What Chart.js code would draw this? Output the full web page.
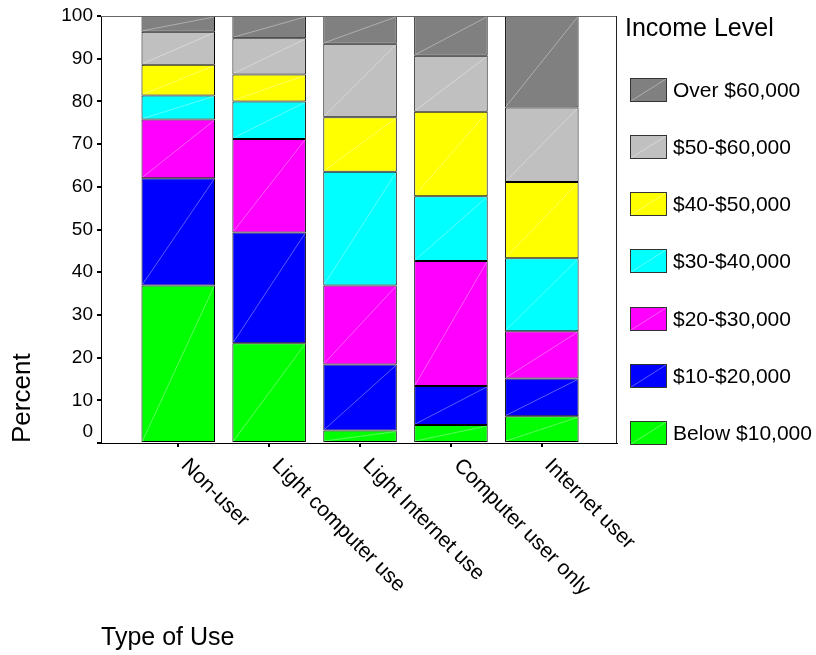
<!DOCTYPE html>
<html>
<head>
<meta charset="utf-8">
<script src="https://cdn.jsdelivr.net/npm/chart.js@4.4.0/dist/chart.umd.min.js"></script>
<style>
html,body{margin:0;padding:0;background:#fff;}
#wrap{width:816px;height:655px;}
</style>
</head>
<body>
<div id="wrap"><canvas id="c" width="816" height="655"></canvas></div>
<script>
// ---- data ----
const categories = ['Non-user', 'Light computer use', 'Light Internet use', 'Computer user only', 'Internet user'];
const seriesNames = ['Below $10,000', '$10-$20,000', '$20-$30,000', '$30-$40,000', '$40-$50,000', '$50-$60,000', 'Over $60,000'];
const below10k = [36.9, 23.35, 2.9, 4.2, 6.25];
const inc10to20k = [25.1, 25.95, 15.5, 9.15, 8.85];
const inc20to30k = [13.75, 21.9, 18.5, 29.25, 11.1];
const inc30to40k = [5.65, 8.8, 26.6, 15.2, 17.05];
const inc40to50k = [7.2, 6.3, 12.8, 19.8, 17.85];
const inc50to60k = [7.7, 8.5, 17.2, 13.1, 17.5];
const over60k = [3.7, 5.2, 6.5, 9.3, 21.4];
const yTicks = [0, 10, 20, 30, 40, 50, 60, 70, 80, 90, 100];
const legendTitle = 'Income Level';
const xTitle = 'Type of Use';
const yTitle = 'Percent';

// ---- styles ----
const seriesValues = [below10k, inc10to20k, inc20to30k, inc30to40k, inc40to50k, inc50to60k, over60k];
const seriesColors = ['#00ff00', '#0000ff', '#ff00ff', '#00ffff', '#ffff00', '#c0c0c0', '#808080'];
const FONT = '"Liberation Sans", Arial, Helvetica, sans-serif';

const datasets = seriesNames.map((name, k) => ({
  label: name,
  data: seriesValues[k].map((v, i) => ({ x: i + 1, y: v })),
  backgroundColor: seriesColors[k],
  borderColor: '#000',
  borderWidth: 1,
  borderSkipped: false,
  categoryPercentage: 1,
  barPercentage: 0.809
}));

const decoPlugin = {
  id: 'deco',
  afterDatasetsDraw(chart) {
    const ctx = chart.ctx;
    ctx.save();
    ctx.strokeStyle = 'rgba(255,255,255,0.45)';
    ctx.lineWidth = 0.8;
    chart.data.datasets.forEach((d, di) => {
      const meta = chart.getDatasetMeta(di);
      meta.data.forEach(el => {
        const p = el.getProps(['x', 'y', 'base', 'width'], true);
        ctx.beginPath();
        ctx.moveTo(p.x - p.width / 2 + 1, p.base - 1);
        ctx.lineTo(p.x + p.width / 2 - 1, p.y + 1);
        ctx.stroke();
      });
    });
    ctx.restore();
  },
  afterDraw(chart) {
    const ctx = chart.ctx;
    const a = chart.chartArea;
    ctx.save();
    // frame top/right
    ctx.strokeStyle = '#666';
    ctx.lineWidth = 1;
    ctx.beginPath();
    ctx.moveTo(a.left, a.top + 0.5);
    ctx.lineTo(a.right, a.top + 0.5);
    ctx.stroke();
    ctx.strokeStyle = '#222';
    ctx.beginPath();
    ctx.moveTo(a.right - 0.5, a.top);
    ctx.lineTo(a.right - 0.5, a.bottom);
    ctx.stroke();

    // rotated category labels
    const xs = chart.scales.x;
    ctx.fillStyle = '#000';
    ctx.font = '21px ' + FONT;
    ctx.textAlign = 'left';
    ctx.textBaseline = 'alphabetic';
    categories.forEach((c, i) => {
      const px = xs.getPixelForValue(i + 1);
      ctx.save();
      ctx.translate(px + 2, a.bottom + 23.5);
      ctx.rotate(Math.PI / 4);
      ctx.fillText(c, 0, 0);
      ctx.restore();
    });

    // legend
    ctx.font = '25px ' + FONT;
    ctx.fillText(legendTitle, 625, 36);
    const ds = chart.data.datasets.slice().reverse();
    ds.forEach((d, i) => {
      const top = Math.round(77.5 + i * 57.3);
      ctx.fillStyle = d.backgroundColor;
      ctx.fillRect(630, top, 37, 24);
      ctx.strokeStyle = 'rgba(255,255,255,0.45)';
      ctx.lineWidth = 0.8;
      ctx.beginPath();
      ctx.moveTo(631, top + 23);
      ctx.lineTo(666, top + 1);
      ctx.stroke();
      ctx.strokeStyle = '#333';
      ctx.lineWidth = 1;
      ctx.strokeRect(630.5, top + 0.5, 36, 23);
      ctx.fillStyle = '#000';
      ctx.font = '21px ' + FONT;
      ctx.textBaseline = 'middle';
      ctx.fillText(d.label, 673, top + 13.5);
      ctx.textBaseline = 'alphabetic';
    });
    ctx.restore();
  }
};

new Chart(document.getElementById('c'), {
  type: 'bar',
  data: { datasets },
  plugins: [decoPlugin],
  options: {
    responsive: false,
    animation: false,
    devicePixelRatio: 1,
    layout: { padding: { left: 0, right: 199, top: 16, bottom: 0 } },
    plugins: { legend: { display: false }, tooltip: { enabled: false } },
    scales: {
      x: {
        type: 'linear',
        stacked: true,
        offset: false,
        min: 0.15,
        max: 5.827,
        afterBuildTicks(s) { s.ticks = categories.map((c, i) => ({ value: i + 1 })); },
        afterFit(s) { s.height = 212; },
        ticks: { display: false },
        grid: { offset: false, drawOnChartArea: false, drawTicks: true, tickLength: 4, color: '#000', lineWidth: 2 },
        border: { display: true, color: '#000', width: 1 },
        title: { display: true, text: xTitle, align: 'start', color: '#000', font: { family: FONT, size: 25 }, padding: { top: 0, bottom: 2 } }
      },
      y: {
        stacked: true,
        min: 0,
        max: 100,
        afterBuildTicks(s) { s.ticks = yTicks.map(v => ({ value: v })); },
        afterFit(s) { s.width = 101; },
        ticks: {
          autoSkip: false,
          callback: (v) => (v === 0 ? ['0', ''] : String(v)),
          color: '#000',
          font: { family: FONT, size: 19 },
          padding: 4
        },
        grid: { drawOnChartArea: false, drawTicks: true, tickLength: 4, color: '#000', lineWidth: 2 },
        border: { display: true, color: '#000', width: 1 },
        title: { display: true, text: yTitle, align: 'start', color: '#000', font: { family: FONT, size: 26 }, padding: { top: 7, bottom: 0 } }
      }
    }
  }
});
</script>
</body>
</html>
